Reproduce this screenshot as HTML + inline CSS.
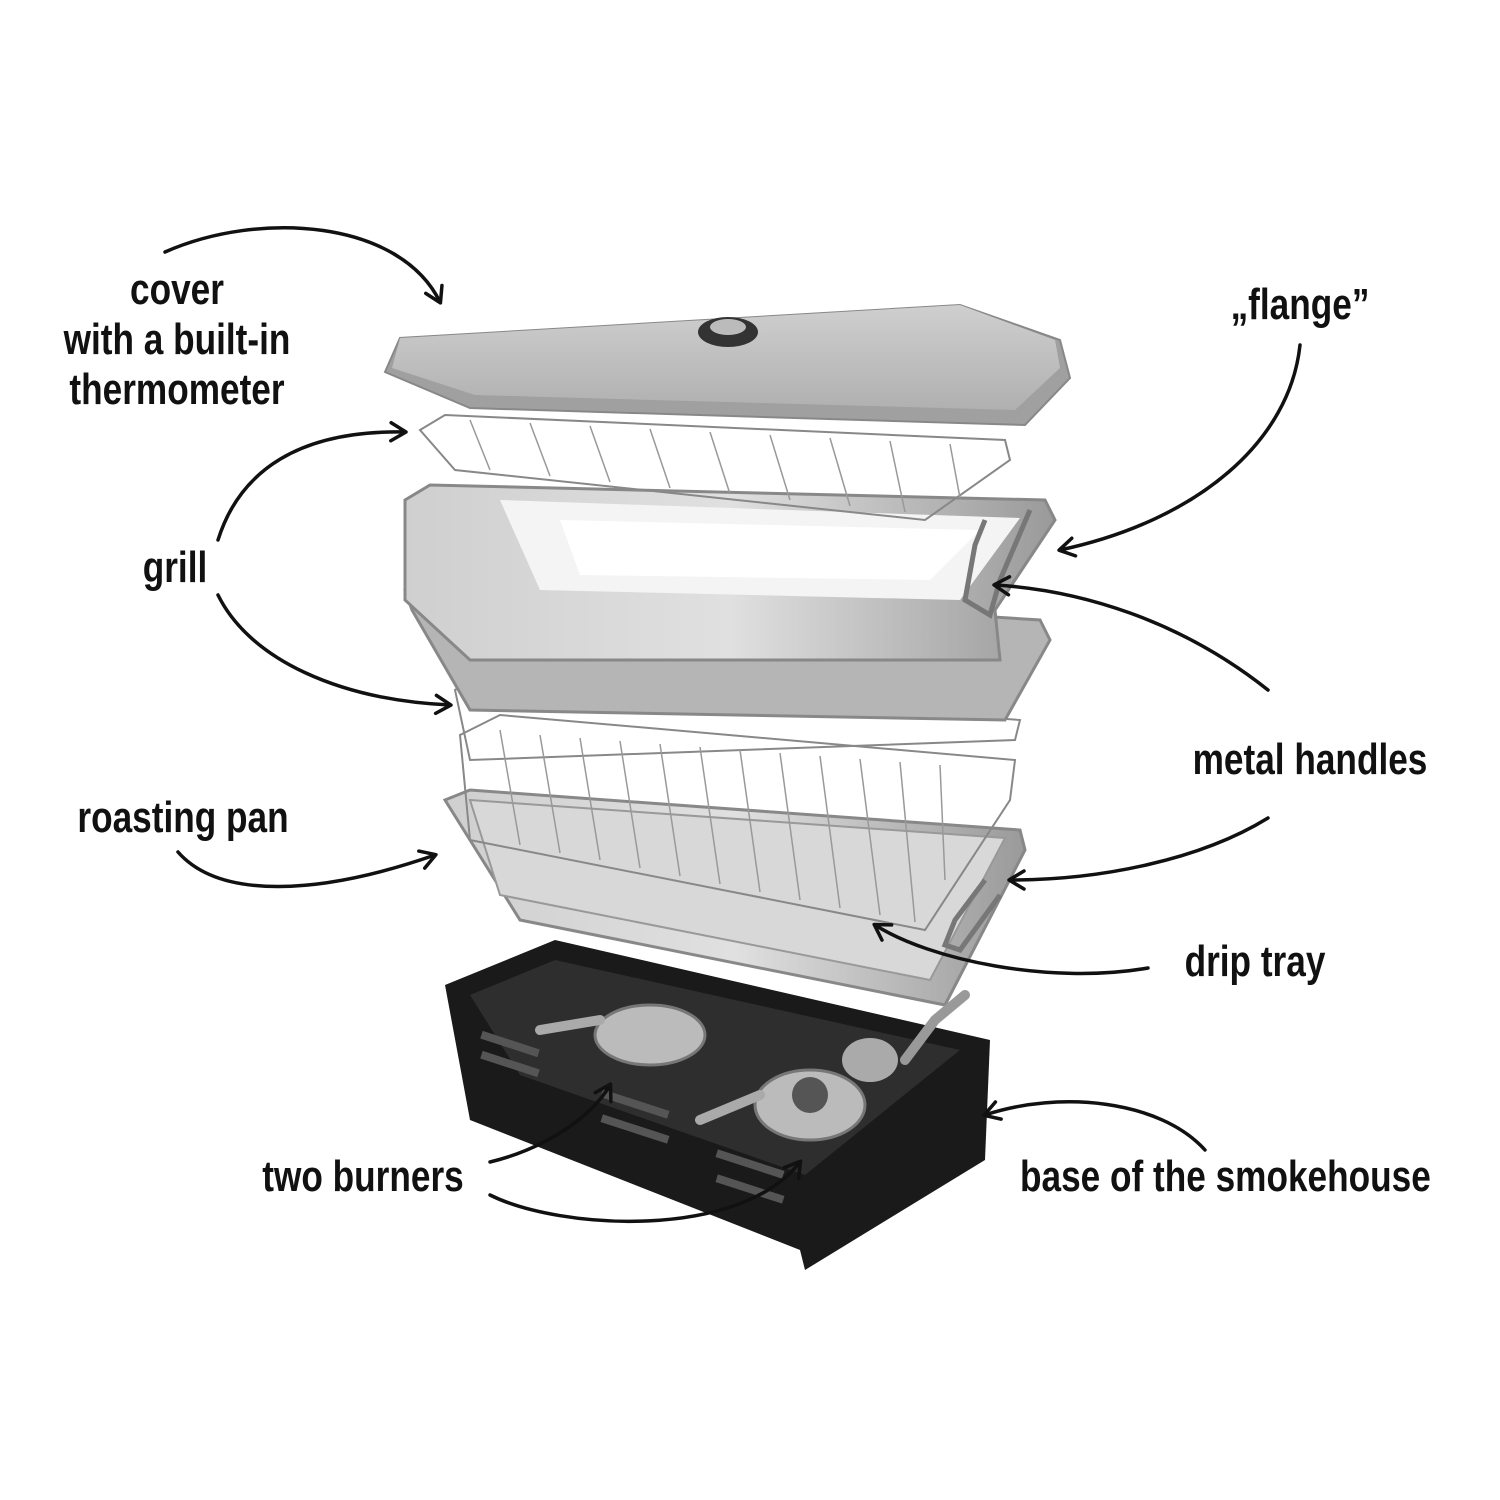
<!DOCTYPE html>
<html><head><meta charset="utf-8"><style>
html,body{margin:0;padding:0;background:#fff;}
body{width:1500px;height:1500px;position:relative;overflow:hidden;}
.t{position:absolute;font-family:"Liberation Sans Narrow","Liberation Sans",sans-serif;font-weight:bold;font-size:44px;color:#111;line-height:50px;text-align:center;white-space:nowrap;transform:scaleX(0.8);}
svg{position:absolute;left:0;top:0;}
</style></head><body>
<svg width="1500" height="1500" viewBox="0 0 1500 1500">
<defs>
<linearGradient id="lid" x1="0" y1="0" x2="0" y2="1"><stop offset="0" stop-color="#cfcfcf"/><stop offset="1" stop-color="#b0b0b0"/></linearGradient>
<linearGradient id="box" x1="0" y1="0" x2="1" y2="0"><stop offset="0" stop-color="#cfcfcf"/><stop offset="0.5" stop-color="#e0e0e0"/><stop offset="1" stop-color="#9a9a9a"/></linearGradient>
<marker id="ah" markerWidth="22" markerHeight="22" refX="16" refY="11" orient="auto" markerUnits="userSpaceOnUse" viewBox="0 0 22 22"><path d="M2,2 L17,11 L2,20" fill="none" stroke="#111" stroke-width="3.5" stroke-linecap="round" stroke-linejoin="round"/></marker>
</defs>
<!-- base -->
<polygon points="445,985 555,940 990,1040 985,1160 805,1270 800,1250 470,1120" fill="#1a1a1a"/>
<polygon points="470,995 555,960 960,1050 805,1175 520,1075" fill="#2e2e2e"/>
<g fill="#555"><rect x="480" y="1040" width="60" height="8" transform="rotate(18 510 1044)"/><rect x="480" y="1060" width="60" height="8" transform="rotate(18 510 1064)"/><rect x="600" y="1100" width="70" height="8" transform="rotate(18 635 1104)"/><rect x="600" y="1125" width="70" height="8" transform="rotate(18 635 1129)"/><rect x="715" y="1160" width="70" height="8" transform="rotate(18 750 1164)"/><rect x="715" y="1185" width="70" height="8" transform="rotate(18 750 1189)"/></g>
<ellipse cx="650" cy="1035" rx="55" ry="30" fill="#bbb" stroke="#777" stroke-width="3"/>
<ellipse cx="810" cy="1105" rx="55" ry="35" fill="#bbb" stroke="#777" stroke-width="3"/>
<circle cx="810" cy="1095" r="18" fill="#555"/>
<ellipse cx="870" cy="1060" rx="28" ry="22" fill="#aaa"/>
<path d="M540 1030 L600 1020 M700 1120 L760 1095" stroke="#aaa" stroke-width="10" stroke-linecap="round"/>
<!-- roasting pan -->
<polygon points="445,800 470,790 1020,830 1025,850 945,1005 520,920" fill="url(#box)" stroke="#888" stroke-width="3"/>
<polygon points="470,800 1005,838 930,980 500,895" fill="#d8d8d8" stroke="#999" stroke-width="2"/>
<!-- lower grills -->
<g stroke="#888" stroke-width="2" fill="none">
<polygon points="460,735 500,715 1015,760 1010,800 925,930 470,840"/>
<polygon points="455,645 500,630 1015,680 1005,705 470,705"/>
<polygon points="455,690 470,680 1020,720 1015,740 470,760"/>
</g>
<g stroke="#999" stroke-width="1.5">
<line x1="500" y1="730" x2="520" y2="845"/><line x1="540" y1="735" x2="560" y2="853"/><line x1="580" y1="738" x2="600" y2="860"/><line x1="620" y1="741" x2="640" y2="868"/><line x1="660" y1="744" x2="680" y2="876"/><line x1="700" y1="747" x2="720" y2="884"/><line x1="740" y1="750" x2="760" y2="892"/><line x1="780" y1="753" x2="800" y2="900"/><line x1="820" y1="756" x2="840" y2="908"/><line x1="860" y1="759" x2="880" y2="915"/><line x1="900" y1="762" x2="915" y2="922"/><line x1="940" y1="765" x2="945" y2="880"/>
</g>
<!-- upper box -->
<polygon points="405,590 420,580 1040,620 1050,640 1005,720 470,710 412,610" fill="#b5b5b5" stroke="#888" stroke-width="3"/>
<polygon points="405,500 430,485 1045,500 1055,520 995,610 1000,660 470,660 405,600" fill="url(#box)" stroke="#888" stroke-width="3"/>
<polygon points="500,500 1020,518 960,600 540,590" fill="#f4f4f4"/>
<polygon points="560,520 980,530 930,580 580,575" fill="#fff"/>
<!-- top grill -->
<g stroke="#888" stroke-width="2" fill="none"><polygon points="420,430 445,415 1005,440 1010,460 925,520 455,470"/></g>
<g stroke="#999" stroke-width="1.5">
<line x1="470" y1="420" x2="490" y2="470"/><line x1="530" y1="423" x2="550" y2="476"/><line x1="590" y1="426" x2="610" y2="482"/><line x1="650" y1="429" x2="670" y2="488"/><line x1="710" y1="432" x2="730" y2="494"/><line x1="770" y1="435" x2="790" y2="500"/><line x1="830" y1="438" x2="850" y2="506"/><line x1="890" y1="441" x2="905" y2="512"/><line x1="950" y1="444" x2="960" y2="498"/>
</g>
<!-- lid -->
<polygon points="385,372 400,338 960,305 1060,340 1070,378 1025,425 470,408" fill="#a0a0a0" stroke="#888" stroke-width="2"/>
<polygon points="400,338 960,305 1055,340 1060,368 1015,410 475,395 392,368" fill="url(#lid)"/>
<ellipse cx="728" cy="332" rx="30" ry="15" fill="#333"/><ellipse cx="728" cy="327" rx="18" ry="8" fill="#bbb"/>
<!-- handles -->
<path d="M985 520 L975 545 L965 600 L990 615 L1000 580 L1030 510" stroke="#777" stroke-width="5" fill="none"/>
<path d="M985 880 L955 920 L945 945 L960 950 L1000 895" stroke="#777" stroke-width="5" fill="none"/>
<path d="M905 1060 L935 1020 L965 995" stroke="#999" stroke-width="10" stroke-linecap="round" fill="none"/>
<!-- arrows -->
<g stroke="#111" stroke-width="3.5" fill="none" stroke-linecap="round" marker-end="url(#ah)">
<path d="M165 252 C260 210 400 220 440 302"/>
<path d="M218 540 C240 470 300 430 405 432"/>
<path d="M218 595 C250 660 340 700 450 705"/>
<path d="M178 852 C220 900 320 895 435 855"/>
<path d="M1300 345 C1290 440 1200 520 1060 550"/>
<path d="M1268 690 C1180 620 1080 590 995 585"/>
<path d="M1268 818 C1200 860 1100 880 1010 880"/>
<path d="M1148 968 C1050 985 930 960 875 925"/>
<path d="M1205 1150 C1160 1100 1060 1090 985 1115"/>
<path d="M490 1162 C540 1150 590 1120 610 1085"/>
<path d="M490 1195 C560 1230 740 1240 800 1162"/>
</g>
</svg>
<div class="t" style="left:27px;top:265px;width:300px;">cover<br>with a built-in<br>thermometer</div>
<div class="t" style="left:1200px;top:280px;width:200px;">„flange”</div>
<div class="t" style="left:100px;top:543px;width:150px;">grill</div>
<div class="t" style="left:1150px;top:735px;width:320px;">metal handles</div>
<div class="t" style="left:33px;top:793px;width:300px;">roasting pan</div>
<div class="t" style="left:1140px;top:937px;width:230px;">drip tray</div>
<div class="t" style="left:223px;top:1152px;width:280px;">two burners</div>
<div class="t" style="left:970px;top:1152px;width:500px;">base of the smokehouse</div>
</body></html>
